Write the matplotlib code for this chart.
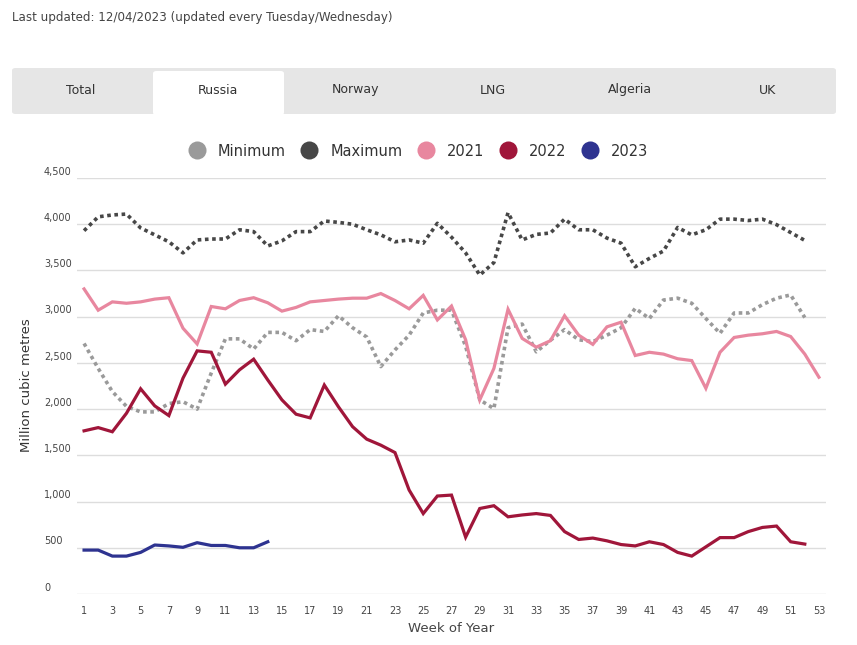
import numpy as np
import matplotlib.pyplot as plt
from matplotlib.patches import FancyBboxPatch
from matplotlib.lines import Line2D
import matplotlib.transforms as mtransforms

# Weekly Russian pipeline gas flows (million cubic metres)
weeks_2021 = np.arange(1, 54)
weeks_52 = np.arange(1, 53)
weeks_2023 = np.arange(1, 15)

minimum = [2710, 2440, 2190, 2030, 1970, 1970, 2060, 2080, 2000, 2390,
           2760, 2760, 2650, 2830, 2830, 2740, 2860, 2840, 3010, 2880,
           2780, 2460, 2640, 2800, 3040, 3070, 3070, 2680, 2100, 2005,
           2880, 2920, 2620, 2745, 2860, 2750, 2730, 2800, 2880, 3090,
           2980, 3180, 3200, 3145, 2980, 2820, 3040, 3040, 3130, 3200,
           3235, 2990]
maximum = [3930, 4080, 4100, 4110, 3960, 3885, 3810, 3690, 3830, 3840,
           3840, 3940, 3920, 3765, 3820, 3920, 3920, 4035, 4020, 4000,
           3940, 3885, 3810, 3830, 3795, 4010, 3860, 3690, 3450, 3585,
           4125, 3830, 3890, 3905, 4055, 3940, 3940, 3850, 3795, 3540,
           3630, 3710, 3965, 3885, 3940, 4055, 4055, 4040, 4055, 3995,
           3910, 3825]
y2021 = [3300, 3070, 3160, 3145, 3160, 3190, 3205, 2875, 2705, 3110,
         3085, 3175, 3205, 3150, 3060, 3100, 3160, 3175, 3190, 3200,
         3200, 3250, 3175, 3085, 3230, 2965, 3115, 2750, 2100, 2440,
         3080, 2765, 2670, 2740, 3010, 2800, 2700, 2890, 2940, 2580,
         2615, 2595, 2545, 2525, 2225, 2615, 2775, 2800, 2815, 2840,
         2785, 2595, 2345]
y2022 = [1765, 1800, 1755, 1955, 2220, 2035, 1930, 2335, 2630, 2615,
         2270, 2425, 2540, 2315, 2100, 1945, 1905, 2260, 2025, 1810,
         1675, 1610, 1530, 1125, 870, 1060, 1070, 615, 925, 955,
         835, 855, 870, 850, 675, 590, 605, 575, 535, 520,
         565, 535, 450, 410, 510, 610, 610, 675, 720, 735,
         565, 540]
y2023 = [475, 475, 410, 410, 450, 530, 520, 505, 555, 525,
         525, 500, 500, 565]

series_names = ["Minimum", "Maximum", "2021", "2022", "2023"]
series_colors = ["#9a9a9a", "#474747", "#e8879f", "#a0163a", "#2e3390"]

tabs = ["Total", "Russia", "Norway", "LNG", "Algeria", "UK"]
y_ticks = np.arange(0, 4501, 500)
x_ticks = np.arange(1, 54, 2)

W, H = 857, 645
fig = plt.figure(figsize=(W / 100, H / 100), dpi=100)

txt = "#444444"

# header
fig.text(12 / W, 1 - 18 / H, "Last updated: 12/04/2023 (updated every Tuesday/Wednesday)",
         fontsize=8.6, color=txt, va="center", ha="left")

# tab bar
bar = FancyBboxPatch((12 / W, 1 - 114 / H), 824 / W, 46 / H,
                     boxstyle="round,pad=0,rounding_size=0.004",
                     transform=fig.transFigure, facecolor="#e6e6e6",
                     edgecolor="none")
fig.patches.append(bar)
sel = FancyBboxPatch((153 / W, 1 - 115 / H), 131 / W, 44 / H,
                     boxstyle="round,pad=0,rounding_size=0.004",
                     transform=fig.transFigure, facecolor="white",
                     edgecolor="none")
fig.patches.append(sel)
tab_w = 824 / 6
for i, t in enumerate(tabs):
    fig.text((12 + tab_w * (i + 0.5)) / W, 1 - 90 / H, t, fontsize=9,
             color="#333333", ha="center", va="center")

# plot area
ax = fig.add_axes([77 / W, 51 / H, 749 / W, 416 / H])
ax.set_xlim(0.5, 53.5)
ax.set_ylim(0, 4500)
for s in ax.spines.values():
    s.set_visible(False)
ax.set_yticks(y_ticks)
ax.yaxis.grid(True, color="#dddddd", linewidth=1)
ax.set_axisbelow(True)
ax.tick_params(axis="y", length=0, labelleft=False)
ax.set_xticks(x_ticks)
ax.set_xticklabels([str(w) for w in x_ticks], fontsize=7, color=txt)
ax.tick_params(axis="x", length=0, pad=9)

trans = mtransforms.blended_transform_factory(fig.transFigure, ax.transData)
for v in y_ticks:
    ax.text(44 / W, v + 15, f"{v:,}", transform=trans, fontsize=7, color=txt,
            ha="left", va="bottom")

dot = (0, (1, 1))
ax.plot(weeks_52, minimum, color=series_colors[0], lw=2.6, linestyle=dot)
ax.plot(weeks_52, maximum, color=series_colors[1], lw=2.6, linestyle=dot)
ax.plot(weeks_2021, y2021, color=series_colors[2], lw=2.3, solid_joinstyle="miter")
ax.plot(weeks_52, y2022, color=series_colors[3], lw=2.3, solid_joinstyle="miter")
ax.plot(weeks_2023, y2023, color=series_colors[4], lw=2.3)

ax.set_xlabel("Week of Year", fontsize=9.5, color=txt, labelpad=4)
fig.text(27 / W, 1 - 385 / H, "Million cubic metres", rotation=90,
         fontsize=9.5, color="#333333", ha="center", va="center")

# legend
handles = [Line2D([], [], marker="o", linestyle="none", markersize=13,
                  markerfacecolor=c, markeredgecolor="none")
           for c in series_colors]
fig.legend(handles, series_names, loc="center", bbox_to_anchor=(418 / W, 1 - 151 / H),
           ncol=5, frameon=False, fontsize=10.5, handletextpad=0.85,
           columnspacing=1.0, labelcolor="#333333", handlelength=1.2)

fig.savefig("out.png", dpi=100, facecolor="white")
